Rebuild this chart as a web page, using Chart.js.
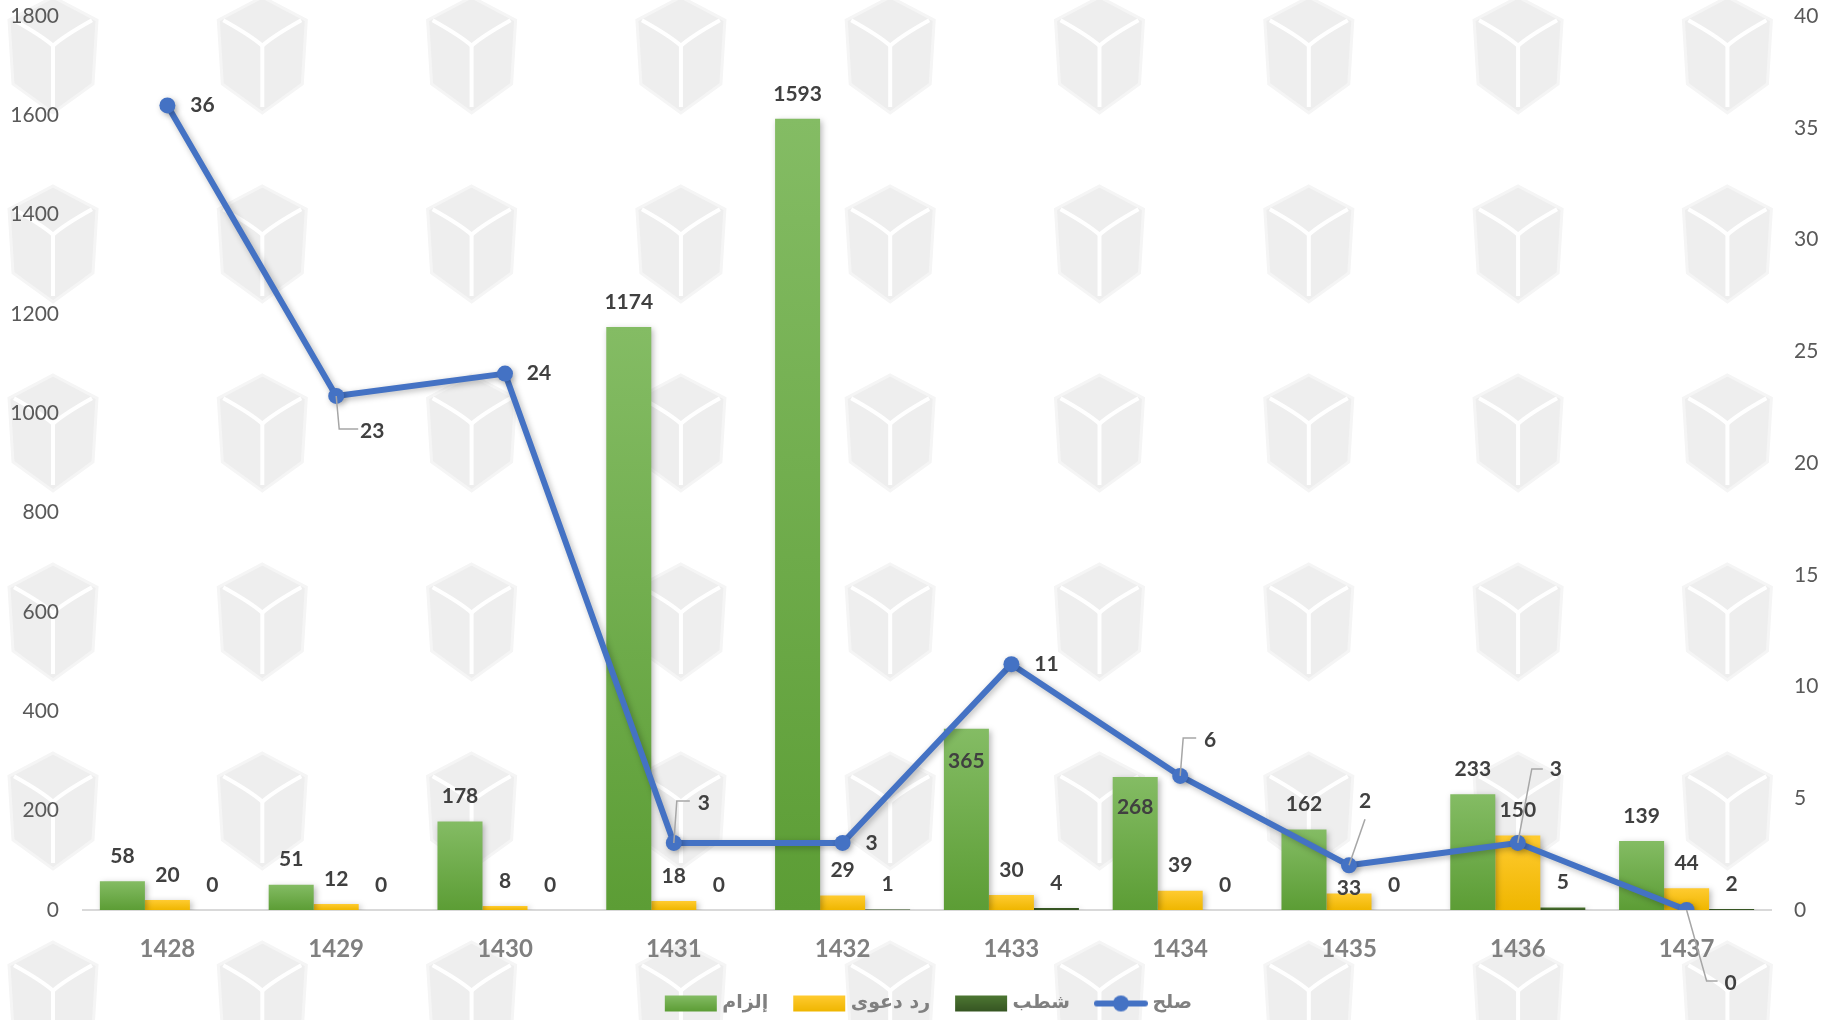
<!DOCTYPE html>
<html>
<head>
<meta charset="utf-8">
<script src="https://cdn.jsdelivr.net/npm/chart.js@4.4.1/dist/chart.umd.min.js"></script>
<style>
html,body{margin:0;padding:0;background:#ffffff;}
#wrap{width:1841px;height:1020px;position:relative;}
</style>
</head>
<body>
<div id="wrap"><canvas id="c" width="1841" height="1020"></canvas></div>
<script>
// ---------- DATA ----------
const categories = ['1428','1429','1430','1431','1432','1433','1434','1435','1436','1437'];
const seriesNames = ['إلزام','رد دعوى','شطب','صلح'];
const ilzam    = [58, 51, 178, 1174, 1593, 365, 268, 162, 233, 139];
const raddDawa = [20, 12, 8, 18, 29, 30, 39, 33, 150, 44];
const shatb    = [0, 0, 0, 0, 1, 4, 0, 0, 5, 2];
const sulh     = [36, 23, 24, 3, 3, 11, 6, 2, 3, 0];
const leftAxisMax = 1800, leftAxisStep = 200;
const rightAxisMax = 40, rightAxisStep = 5;

// ---------- STYLE ----------
const FONT = "Lato, 'DejaVu Sans', sans-serif";
const LABEL_COLOR = '#404040';
const barColors = [
  ['#84bc64', '#5c9d35'],
  ['#ffcb30', '#efb600'],
  ['#4d7732', '#365522']
];
const lineColor = '#4472c4';
const barLabelDyDefault = -25;
const barLabelDy = {0: {5: 33, 6: 30}, 1: {7: -5}};
const lineLabelPlace = [
  [35, 0, null],
  [36, 35, 'elbowV'],
  [34, 0, null],
  [30, -40, 'elbowV'],
  [29, 0, null],
  [35, 0, null],
  [30, -36, 'elbowV'],
  [16, -64, 'slant'],
  [38, -74, 'slantH'],
  [44, 73, 'slantH']
];

function barGradient(top, bottom) {
  return (ctx) => {
    const chart = ctx.chart;
    if (ctx.type !== 'data' || !chart.chartArea) return bottom;
    const ys = chart.scales.y;
    const v = ctx.parsed ? ctx.parsed.y : ctx.raw;
    const yTop = ys.getPixelForValue(v), yBase = ys.getPixelForValue(0);
    if (!isFinite(yTop) || yBase - yTop < 2) return bottom;
    const g = chart.ctx.createLinearGradient(0, yTop, 0, yBase);
    g.addColorStop(0, top); g.addColorStop(1, bottom);
    return g;
  };
}

function legendImage(kind, colors) {
  const cv = document.createElement('canvas');
  cv.width = 54; cv.height = 18;
  const c = cv.getContext('2d');
  if (kind === 'rect') {
    const g = c.createLinearGradient(0, 1, 0, 17);
    g.addColorStop(0, colors[0]); g.addColorStop(1, colors[1]);
    c.fillStyle = g;
    c.fillRect(1, 1, 52, 16);
  } else {
    c.strokeStyle = lineColor; c.lineWidth = 6; c.lineCap = 'round';
    c.beginPath(); c.moveTo(3, 9); c.lineTo(51, 9); c.stroke();
    c.fillStyle = lineColor;
    c.beginPath(); c.arc(27, 9, 8, 0, Math.PI * 2); c.fill();
  }
  return cv;
}
const legendImgs = [
  legendImage('rect', barColors[0]),
  legendImage('rect', barColors[1]),
  legendImage('rect', barColors[2]),
  legendImage('line')
];

// ---------- PLUGINS ----------
const watermark = {
  id: 'watermark',
  beforeDraw(chart) {
    const c = chart.ctx;
    c.save();
    const w = 88, h = 116;
    for (let cy = 55; cy < 1120; cy += 189) {
      for (let cx = 53; cx < 1900; cx += 209.3) {
        const t = cy - h / 2, b = cy + h / 2, l = cx - w / 2, r = cx + w / 2;
        c.beginPath();
        c.moveTo(cx, t);
        c.lineTo(r, t + h * 0.2);
        c.lineTo(r - 4, b - h * 0.25);
        c.lineTo(cx, b);
        c.lineTo(l + 4, b - h * 0.25);
        c.lineTo(l, t + h * 0.2);
        c.closePath();
        c.fillStyle = '#eeeeee';
        c.fill();
        c.strokeStyle = '#f5f5f5';
        c.lineWidth = 3;
        c.stroke();
        c.strokeStyle = '#ffffff';
        c.lineWidth = 4;
        c.beginPath();
        c.moveTo(l + 5, t + h * 0.2);
        c.quadraticCurveTo(cx - 10, t + h * 0.34, cx, t + h * 0.42);
        c.quadraticCurveTo(cx + 10, t + h * 0.34, r - 5, t + h * 0.2);
        c.stroke();
        c.beginPath();
        c.moveTo(cx, t + h * 0.42);
        c.lineTo(cx, b - 6);
        c.stroke();
      }
    }
    c.restore();
  }
};

const shadows = {
  id: 'shadows',
  beforeDatasetDraw(chart) {
    const c = chart.ctx;
    c.save();
    c.shadowColor = 'rgba(0,0,0,0.28)';
    c.shadowBlur = 6;
    c.shadowOffsetX = 2;
    c.shadowOffsetY = 2;
  },
  afterDatasetDraw(chart) { chart.ctx.restore(); }
};

const legendShift = {
  id: 'legendShift',
  afterLayout(chart) {
    const lg = chart.legend;
    if (!lg) return;
    lg.left += 10; lg.right += 10;
    lg.top += 3; lg.bottom += 3;
  }
};

const dataLabels = {
  id: 'dataLabels',
  afterDatasetsDraw(chart) {
    const c = chart.ctx;
    c.save();
    c.font = 'bold 21px ' + FONT;
    c.fillStyle = LABEL_COLOR;
    c.textAlign = 'center';
    c.textBaseline = 'middle';
    [0, 1, 2].forEach(di => {
      const meta = chart.getDatasetMeta(di);
      const vals = chart.data.datasets[di].data;
      meta.data.forEach((el, i) => {
        const dy = (barLabelDy[di] && barLabelDy[di][i] !== undefined) ? barLabelDy[di][i] : barLabelDyDefault;
        c.fillText(String(vals[i]), el.x, el.y + dy);
      });
    });
    const lm = chart.getDatasetMeta(3);
    const lv = chart.data.datasets[3].data;
    lm.data.forEach((el, i) => {
      const [dx, dy, leader] = lineLabelPlace[i];
      const lx = el.x + dx, ly = el.y + dy;
      if (leader) {
        c.save();
        c.strokeStyle = '#a6a6a6';
        c.lineWidth = 1.5;
        c.beginPath();
        if (leader === 'elbowV') {
          const yy = ly - 2;
          c.moveTo(el.x, el.y);
          c.lineTo(el.x + 3, yy);
          c.lineTo(lx - 14, yy);
        } else if (leader === 'slant') {
          c.moveTo(el.x, el.y);
          c.lineTo(lx, ly + 18);
        } else if (leader === 'slantH') {
          const yy = dy < 0 ? ly : ly - 2;
          c.moveTo(el.x, el.y);
          c.lineTo(lx - 24, yy);
          c.lineTo(lx - 13, yy);
        }
        c.stroke();
        c.restore();
      }
      c.fillText(String(lv[i]), lx, ly);
    });
    c.restore();
  }
};

// ---------- CHART ----------
Chart.defaults.font.family = FONT;
const plainTick = (v) => String(v);
const chart = new Chart(document.getElementById('c'), {
  type: 'bar',
  data: {
    labels: categories,
    datasets: [
      { label: seriesNames[0], data: ilzam, yAxisID: 'y', backgroundColor: barGradient(...barColors[0]), order: 1 },
      { label: seriesNames[1], data: raddDawa, yAxisID: 'y', backgroundColor: barGradient(...barColors[1]), order: 2 },
      { label: seriesNames[2], data: shatb, yAxisID: 'y', backgroundColor: barGradient(...barColors[2]), order: 3 },
      { label: seriesNames[3], data: sulh, type: 'line', yAxisID: 'y1', order: 0,
        borderColor: lineColor, borderWidth: 6, tension: 0,
        pointRadius: 8, pointHoverRadius: 8, pointBackgroundColor: lineColor, pointBorderWidth: 0,
        borderJoinStyle: 'round', borderCapStyle: 'round' }
    ]
  },
  options: {
    responsive: false,
    animation: false,
    devicePixelRatio: 1,
    layout: { padding: { top: 16, left: 0, right: 0, bottom: 0 } },
    datasets: { bar: { categoryPercentage: 0.8, barPercentage: 1.0 } },
    plugins: {
      tooltip: { enabled: false },
      legend: {
        position: 'bottom',
        labels: {
          usePointStyle: true,
          pointStyleWidth: 44,
          boxHeight: 18,
          padding: 29,
          color: '#808080',
          font: { size: 19, weight: 'bold', family: "'DejaVu Sans', sans-serif" },
          generateLabels: (ch) => ch.data.datasets.map((ds, i) => ({
            text: ds.label,
            pointStyle: legendImgs[i],
            fillStyle: 'transparent',
            strokeStyle: 'transparent',
            lineWidth: 0,
            fontColor: '#808080',
            datasetIndex: i,
            hidden: false
          }))
        }
      }
    },
    scales: {
      x: {
        grid: { display: false, drawTicks: false },
        border: { display: true, color: '#d9d9d9', width: 2 },
        ticks: { color: '#808080', font: { size: 24, weight: 'bold' }, padding: 25 },
        afterFit(s) { s.height = 52; s.paddingLeft = 0; s.paddingRight = 0; }
      },
      y: {
        position: 'left',
        min: 0, max: leftAxisMax,
        grid: { display: false, drawTicks: false },
        border: { display: false },
        ticks: { stepSize: leftAxisStep, color: '#595959', font: { size: 21 }, padding: 24, callback: plainTick },
        afterFit(s) { s.width = 83; s.paddingTop = 0; s.paddingBottom = 0; }
      },
      y1: {
        position: 'right',
        min: 0, max: rightAxisMax,
        grid: { display: false, drawTicks: false },
        border: { display: false },
        ticks: { stepSize: rightAxisStep, color: '#595959', font: { size: 21 }, padding: 23, callback: plainTick },
        afterFit(s) { s.width = 70; s.paddingTop = 0; s.paddingBottom = 0; }
      }
    }
  },
  plugins: [watermark, shadows, legendShift, dataLabels]
});
</script>
</body>
</html>
